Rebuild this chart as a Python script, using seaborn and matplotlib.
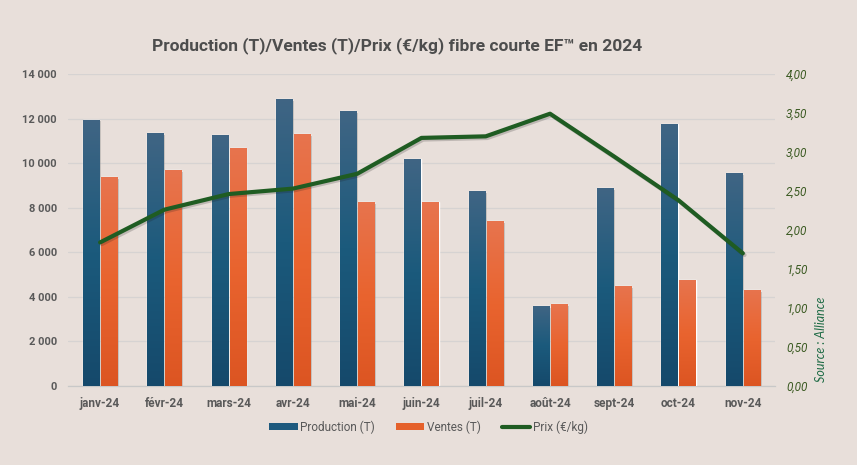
import numpy as np
import pandas as pd
import matplotlib
matplotlib.use("Agg")
import matplotlib.pyplot as plt
import matplotlib.patheffects as pe
from matplotlib.patches import Patch
from matplotlib.lines import Line2D
from matplotlib.colors import LinearSegmentedColormap
import seaborn as sns

months = ["janv-24", "févr-24", "mars-24", "avr-24", "mai-24", "juin-24",
          "juil-24", "août-24", "sept-24", "oct-24", "nov-24"]
production = [11950, 11350, 11260, 12880, 12340, 10190, 8750, 3590, 8880, 11760, 9560]
ventes = [9380, 9690, 10680, 11310, 8260, 8250, 7400, 3680, 4490, 4760, 4310]
prix = [1.84, 2.26, 2.46, 2.53, 2.72, 3.18, 3.20, 3.49, 2.94, 2.38, 1.70]
left_ticks = [0, 2000, 4000, 6000, 8000, 10000, 12000, 14000]
right_ticks = [0, 0.5, 1.0, 1.5, 2.0, 2.5, 3.0, 3.5, 4.0]

BG = "#E8DFDA"
TXT = "#595959"
GREEN = "#1F5C22"

sns.set_theme(style="white")
plt.rcParams["font.family"] = ["Roboto", "DejaVu Sans"]

df = pd.DataFrame({
    "mois": months * 2,
    "valeur": production + ventes,
    "serie": ["Production (T)"] * len(months) + ["Ventes (T)"] * len(months),
})

fig = plt.figure(figsize=(8.57, 4.65), dpi=100, facecolor=BG)
ax = fig.add_axes([0.0793, 0.170, 0.825, 0.671])
ax.set_facecolor(BG)

sns.barplot(data=df, x="mois", y="valeur", hue="serie", order=months,
            palette={"Production (T)": "#1B5478", "Ventes (T)": "#E35F28"},
            width=0.56, gap=0.1, legend=False, ax=ax, zorder=3)

cmap_blue = LinearSegmentedColormap.from_list("b", ["#15496B", "#1B5A7C", "#406584"])
cmap_or = LinearSegmentedColormap.from_list("o", ["#DC5522", "#E9642F", "#E7744E"])
grad = np.linspace(0, 1, 256).reshape(-1, 1)
n = len(months)
for i, p in enumerate(ax.patches):
    cm = cmap_blue if i < n else cmap_or
    p.set_path_effects([pe.SimplePatchShadow(offset=(1.2, -1.2), shadow_rgbFace="#000000", alpha=0.2),
                        pe.Normal()])
    x0, y0 = p.get_x(), p.get_y()
    w, h = p.get_width(), p.get_height()
    im = ax.imshow(grad, cmap=cm, aspect="auto", origin="lower",
                   extent=(x0, x0 + w, y0, y0 + h), zorder=3.5)
    im.set_clip_path(p)

ax.set_xlim(-0.5, n - 0.5)
ax.set_ylim(0, 14000)
ax.set_yticks(left_ticks)
ax.set_yticklabels([f"{v:,}".replace(",", " ") for v in left_ticks],
                   fontsize=8, fontweight="bold", color=TXT)
ax.set_xticks(range(n))
ax.set_xticklabels(months, fontsize=8.5, fontweight="bold", color=TXT)
ax.set_xticks(np.arange(-0.5, n, 1), minor=True)
ax.tick_params(axis="x", which="major", length=0, pad=8)
ax.tick_params(axis="x", which="minor", length=4, color="#C8C8C8", width=0.8)
ax.tick_params(axis="y", length=0, pad=8)
ax.set_xlabel("")
ax.set_ylabel("")
ax.grid(axis="y", color="#D6D3D2", linewidth=0.9, zorder=0)
ax.set_axisbelow(True)
for s in ["top", "right", "left"]:
    ax.spines[s].set_visible(False)
ax.spines["bottom"].set_color("#C8C8C8")
ax.spines["bottom"].set_linewidth(0.9)

ax2 = ax.twinx()
sns.lineplot(x=np.arange(n), y=prix, ax=ax2, color=GREEN, linewidth=3.0,
             solid_capstyle="round", zorder=5,
             path_effects=[pe.SimpleLineShadow(offset=(1.2, -1.2), alpha=0.2), pe.Normal()])
ax2.set_ylim(0, 4)
ax2.set_yticks(right_ticks)
ax2.set_yticklabels([f"{v:.2f}".replace(".", ",") for v in right_ticks],
                    fontsize=8.5, fontstyle="italic", color="#3B5A22")
ax2.tick_params(axis="y", length=0, pad=8)
ax2.set_ylabel("")
for s in ["top", "right", "left", "bottom"]:
    ax2.spines[s].set_visible(False)
ax2.set_xlim(-0.5, n - 0.5)

fig.text(0.4635, 0.903, "Production (T)/Ventes (T)/Prix (€/kg) fibre courte EF™ en 2024",
         ha="center", va="center", fontsize=12.5, fontweight="bold", color="#4D4D4D",
         family=["Roboto", "DejaVu Sans"])
fig.text(0.958, 0.27, "Source : Alliance", rotation=90, ha="center", va="center",
         fontsize=9, fontstyle="italic", color="#1E6B45", family=["Lato", "DejaVu Sans"])

handles = [Patch(facecolor="#1E5A7E", edgecolor="none"),
           Patch(facecolor="#E5612B", edgecolor="none"),
           Line2D([0], [0], color=GREEN, linewidth=3)]
leg = fig.legend(handles, ["Production (T)", "Ventes (T)", "Prix (€/kg)"],
                 loc="center", bbox_to_anchor=(0.5, 0.082), ncol=3, frameon=False,
                 fontsize=8.5, handlelength=2.4, handleheight=0.6, columnspacing=1.8,
                 handletextpad=0.2)
for t in leg.get_texts():
    t.set_color(TXT)

fig.savefig("out.png", dpi=100, facecolor=BG)
